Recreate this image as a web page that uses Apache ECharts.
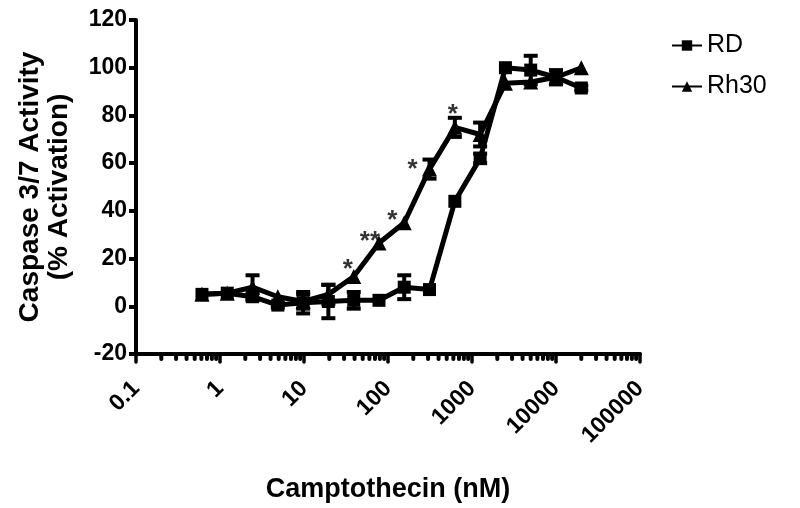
<!DOCTYPE html>
<html><head><meta charset="utf-8">
<script src="https://cdn.jsdelivr.net/npm/echarts@6/dist/echarts.min.js"></script>
<style>html,body{margin:0;padding:0;background:#fff}#c{width:800px;height:508px}</style>
</head><body><div id="c"></div>
<script>
// ---- data ----
const concentrations = [0.61, 1.22, 2.44, 4.88, 9.77, 19.5, 39.1, 78.1, 156, 312, 625, 1250, 2500, 5000, 10000, 20000];
const rdMean   = [5, 5.5, 4, 0.5, 1.5, 2, 2.5, 2.5, 8, 7, 44, 62, 100, 99, 96, 91.5];
const rdErr    = [0, 0, 1.5, 1, 4.5, 7, 3.5, 0, 5, 0, 0, 2, 0, 6, 3, 1];
const rh30Mean = [5, 5.5, 8, 4, 2, 5, 12.5, 26.5, 35, 57.5, 75, 72, 93.5, 94, 96, 100];
const rh30Err  = [0, 0, 5, 0, 3, 4, 0, 0, 0, 4, 4, 5, 0, 0, 0, 0];
const rh30Stars = ['', '', '', '', '', '', '*', '**', '*', '*', '*', '', '', '', '', ''];
const xTickLabels = ['0.1', '1', '10', '100', '1000', '10000', '100000'];
const yTickLabels = ['-20', '0', '20', '40', '60', '80', '100', '120'];
const seriesNames = ['RD', 'Rh30'];

// ---- styling / construction ----
const FONT = '"Liberation Sans", Arial, sans-serif';
const starOffsets = [null, null, null, null, null, null, [-6, -7], [-9, -1], [-12, -2], [-17, 1], [-2, -13], null, null, null, null, null];

const minorTickValues = [];
for (let e = -1; e <= 4; e++) for (let m = 2; m <= 9; m++) minorTickValues.push([m * Math.pow(10, e), -20]);

function errData(means, errs) {
  const out = [];
  concentrations.forEach((c, i) => { if (errs[i] > 0) out.push([c, means[i] - errs[i], means[i] + errs[i]]); });
  return out;
}
function errRender(params, api) {
  const x = api.value(0);
  const lo = api.coord([x, api.value(1)]);
  const hi = api.coord([x, api.value(2)]);
  const w = 7;
  const st = { stroke: '#000', lineWidth: 4 };
  return { type: 'group', children: [
    { type: 'line', shape: { x1: lo[0], y1: lo[1], x2: hi[0], y2: hi[1] }, style: st },
    { type: 'line', shape: { x1: lo[0] - w, y1: lo[1], x2: lo[0] + w, y2: lo[1] }, style: st },
    { type: 'line', shape: { x1: hi[0] - w, y1: hi[1], x2: hi[0] + w, y2: hi[1] }, style: st }
  ]};
}

const chart = echarts.init(document.getElementById('c'), null, { renderer: 'canvas' });
chart.setOption({
  animation: false,
  backgroundColor: '#fff',
  grid: { left: 136, right: 160, top: 20, bottom: 149, containLabel: false },
  legend: {
    data: seriesNames, orient: 'vertical', left: 666, top: 28,
    itemWidth: 30, itemHeight: 13, itemGap: 16,
    textStyle: { fontFamily: FONT, fontSize: 25, color: '#000' }
  },
  xAxis: {
    type: 'log', logBase: 10, min: 0.1, max: 100000,
    name: 'Camptothecin (nM)', nameLocation: 'middle', nameGap: 122,
    nameTextStyle: { fontFamily: FONT, fontSize: 27, fontWeight: 'bold', color: '#000' },
    axisLine: { onZero: false, lineStyle: { color: '#000', width: 4 } },
    axisTick: { show: true, inside: false, length: 8, lineStyle: { color: '#000', width: 3.5, cap: 'round' } },
    axisLabel: {
      rotate: 45, margin: 31, color: '#000', fontFamily: FONT, fontSize: 23, fontWeight: 'bold',
      formatter: v => { const k = Math.round(Math.log10(v)) + 1; return xTickLabels[k] !== undefined ? xTickLabels[k] : ''; }
    },
    splitLine: { show: false }, minorTick: { show: false }
  },
  yAxis: {
    type: 'value', min: -20, max: 120, interval: 20,
    name: 'Caspase 3/7 Activity\n(% Activation)', nameLocation: 'middle', nameGap: 62,
    nameTextStyle: { fontFamily: FONT, fontSize: 28, fontWeight: 'bold', color: '#000', lineHeight: 29 },
    axisLine: { show: true, lineStyle: { color: '#000', width: 4 } },
    axisTick: { show: true, length: 7, lineStyle: { color: '#000', width: 4 } },
    axisLabel: {
      margin: 9, color: '#000', fontFamily: FONT, fontSize: 23, fontWeight: 'bold',
      formatter: v => { const k = Math.round((v + 20) / 20); return yTickLabels[k] !== undefined ? yTickLabels[k] : ''; }
    },
    splitLine: { show: false }
  },
  series: [
    {
      name: 'minorTicks', type: 'custom', silent: true, clip: false, z: 1,
      data: minorTickValues,
      renderItem: (params, api) => {
        const p = api.coord([api.value(0), api.value(1)]);
        return { type: 'line', shape: { x1: p[0], y1: p[1], x2: p[0], y2: p[1] + 5 },
                 style: { stroke: '#000', lineWidth: 4, lineCap: 'round' } };
      }
    },
    {
      name: 'RD', type: 'line', data: concentrations.map((c, i) => [c, rdMean[i]]),
      symbol: 'rect', symbolSize: 13, showSymbol: true, z: 3,
      lineStyle: { color: '#000', width: 5 }, itemStyle: { color: '#000', borderWidth: 0 }
    },
    {
      name: 'Rh30', type: 'line', data: concentrations.map((c, i) => [c, rh30Mean[i]]),
      symbol: 'triangle', symbolSize: 15, showSymbol: true, z: 3,
      lineStyle: { color: '#000', width: 5 }, itemStyle: { color: '#000', borderWidth: 0 }
    },
    {
      name: 'RD err', type: 'custom', data: errData(rdMean, rdErr), renderItem: errRender,
      encode: { x: 0, y: [1, 2] }, z: 4, silent: true
    },
    {
      name: 'Rh30 err', type: 'custom', data: errData(rh30Mean, rh30Err), renderItem: errRender,
      encode: { x: 0, y: [1, 2] }, z: 4, silent: true
    },
    {
      name: 'stars', type: 'scatter', symbol: 'circle', symbolSize: 1, silent: true, z: 5,
      itemStyle: { color: 'rgba(0,0,0,0)' },
      data: concentrations.map((c, i) => rh30Stars[i] ? {
        value: [c, rh30Mean[i]],
        label: { show: true, position: 'inside', formatter: rh30Stars[i], offset: starOffsets[i],
                 fontFamily: FONT, fontSize: 26, fontWeight: 'bold', color: '#000' }
      } : null).filter(Boolean)
    }
  ]
});
</script>
</body></html>
